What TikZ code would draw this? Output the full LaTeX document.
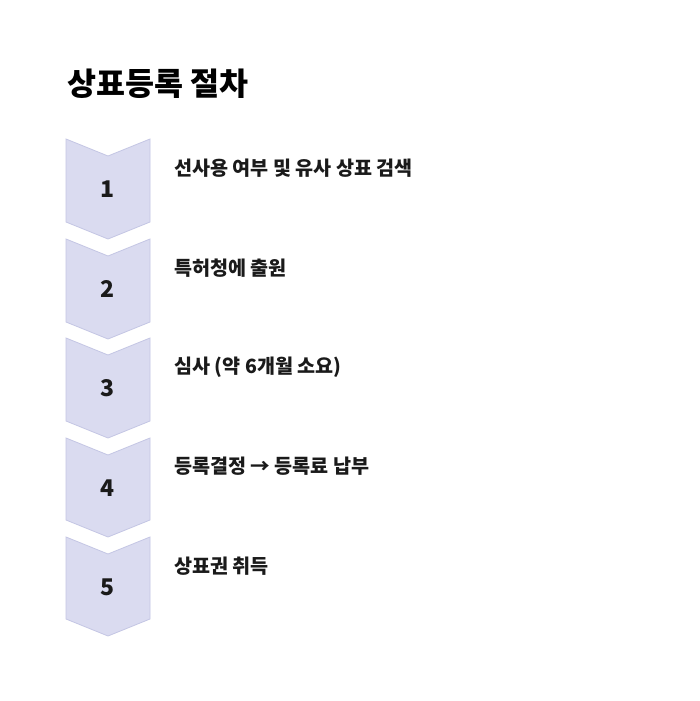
\documentclass[tikz,border=0pt]{standalone}
\usepackage{fontspec}
\setmainfont{Noto Sans CJK KR}
\usepackage{tikz}
\usetikzlibrary{positioning}
\definecolor{chevfill}{RGB}{218,219,240}
\definecolor{chevline}{RGB}{196,198,228}
\definecolor{ink}{RGB}{26,26,26}

\begin{document}
\begin{tikzpicture}
    [x=1pt, y=-1pt,
     chev/.style={draw=chevline, fill=chevfill, line width=0.8pt, line join=miter},
     num/.style={inner sep=0pt, text=ink, font=\fontsize{23}{26}\selectfont\bfseries},
     lbl/.style={inner sep=0pt, anchor=west, text=ink, font=\fontsize{19.6}{22}\selectfont\bfseries},
     ttl/.style={inner sep=0pt, anchor=west, text=black, font=\fontsize{31.5}{35}\selectfont\bfseries}]

    \useasboundingbox [fill=white] (0,0) rectangle (700,701);

    \node [ttl] (title) at (67,84) {상표등록 절차};

    \draw [chev] (66,139) -- (108,156) -- (150,139) -- (150,222) -- (108,239) -- (66,222) -- cycle;
    \node [num] (n1) at (108,189) {1};
    \node [lbl] (s1) at (174,168) {선사용 여부 및 유사 상표 검색};

    \draw [chev] (66,239) -- (108,256) -- (150,239) -- (150,322) -- (108,339) -- (66,322) -- cycle;
    \node [num] (n2) at (108,289) {2};
    \node [lbl] (s2) at (174,268) {특허청에 출원};

    \draw [chev] (66,338) -- (108,355) -- (150,338) -- (150,421) -- (108,438) -- (66,421) -- cycle;
    \node [num] (n3) at (108,388) {3};
    \node [lbl] (s3) at (174,367) {심사 (약 6개월 소요)};

    \draw [chev] (66,438) -- (108,455) -- (150,438) -- (150,520) -- (108,537) -- (66,520) -- cycle;
    \node [num] (n4) at (108,488) {4};
    \node [lbl] (s4) at (174,466) {등록결정 → 등록료 납부};

    \draw [chev] (66,537) -- (108,554) -- (150,537) -- (150,619) -- (108,636) -- (66,619) -- cycle;
    \node [num] (n5) at (108,587) {5};
    \node [lbl] (s5) at (174,566) {상표권 취득};
\end{tikzpicture}
\end{document}
